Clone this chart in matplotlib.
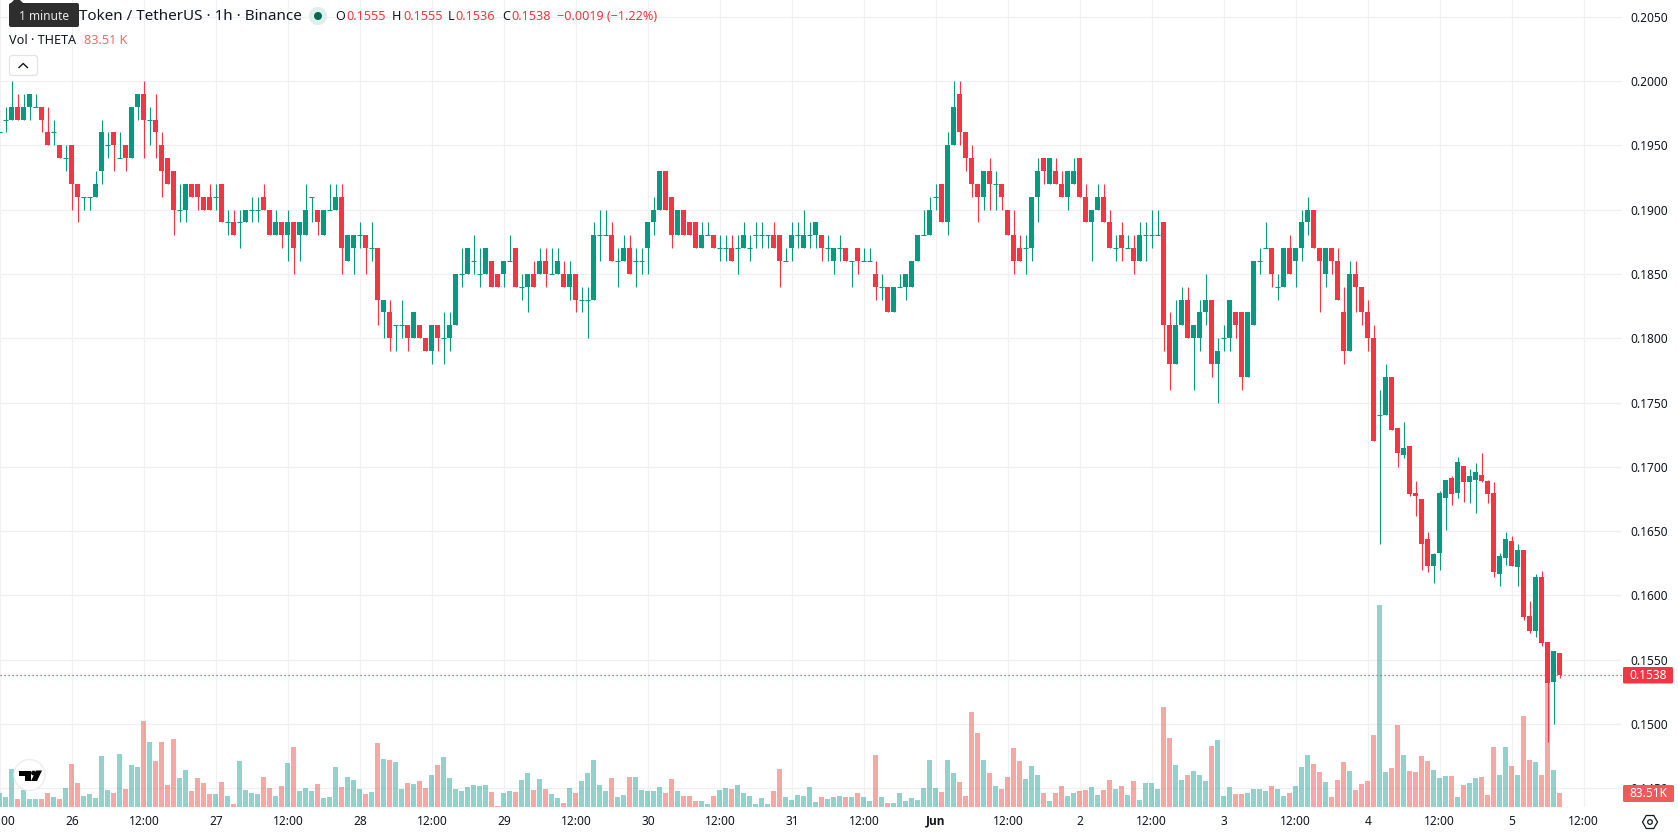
import matplotlib
matplotlib.use("Agg")
import matplotlib.pyplot as plt
from matplotlib.patches import Circle, FancyBboxPatch, Polygon, RegularPolygon
import numpy as np

plt.rcParams['font.family'] = ['Noto Sans', 'DejaVu Sans']

W, H = 1678, 835
PLOT_R, PLOT_B = 1622, 807
GREEN, RED = '#089981', '#F23645'
INK = '#131722'

# hourly candles starting 25 May 12:00, prices in thousandths
opens = [196,197,197,198,197,198,198,198,196,196,195,194,
         195,192,191,191,191,193,195,196,194,195,194,198,
         199,197,197,195,194,193,190,190,192,192,191,191,
         191,192,189,189,189,189,190,190,191,190,188,189,
         188,189,188,188,191,190,188,190,190,191,186,187,
         188,188,187,187,182,182,181,181,181,180,181,180,
         179,181,180,180,181,185,185,186,185,185,186,185,
         185,186,187,184,184,185,185,186,185,185,185,184,
         185,183,183,183,188,188,188,186,186,187,186,186,
         187,189,190,193,191,188,190,189,189,187,188,188,
         187,187,187,187,187,187,188,188,188,188,188,186,
         187,188,187,188,188,188,187,186,187,187,186,187,
         186,186,185,184,184,182,184,184,184,186,188,188,
         191,192,189,195,199,196,194,192,191,193,192,192,
         190,188,187,187,187,191,194,192,193,192,191,192,
         194,191,189,190,191,189,187,188,187,187,186,188,
         188,188,189,181,178,181,183,180,180,182,183,178,
         180,180,182,182,177,181,186,187,187,184,184,187,
         186,187,189,190,187,185,187,186,182,179,185,184,
         182,180,174,174,177,173,170.9,171.6,168,167.5,164.4,162.3,
         163.3,167.6,169.1,168,170.1,168.8,169,169.4,168.9,168,161.7,162.9,
         164.2,162.2,163.5,158.4,157.2,161.4,156.4,153.3,155.5]
closes = [196,197,198,197,198,199,198,197,195,196,194,194,
          192,191,191,191,192,196,195,195,194,194,198,199,
          197,197,196,193,192,190,190,192,191,191,190,190,
          191,189,189,188,189,190,190,190,190,188,189,188,
          189,187,189,190,191,189,190,190,191,187,188,188,
          188,187,187,183,183,180,181,181,180,182,180,179,
          181,180,180,181,185,185,187,186,185,187,184,184,
          186,186,184,184,185,184,186,185,185,186,184,185,
          183,183,183,188,188,188,186,186,187,185,186,186,
          189,190,193,190,188,190,188,188,187,188,188,187,
          187,187,186,187,188,187,188,188,188,187,186,186,
          188,188,188,188,189,187,187,187,187,186,186,186,
          186,186,184,184,182,184,184,185,186,188,188,190,
          191,189,195,198,196,194,192,191,193,192,192,191,
          188,186,186,187,191,193,193,194,192,191,193,193,
          191,189,190,191,189,187,187,187,187,186,188,188,
          188,188,181,178,181,183,180,181,182,183,178,179,
          180,183,181,177,182,186,186,187,185,184,187,185,
          187,189,190,187,186,187,186,183,179,185,184,182,
          180,172,174,177,172.9,171.1,171.5,167.9,167.7,164,162.3,163.2,
          168,169,167.9,170.4,168.8,169.3,169.6,168.9,167.9,161.8,163.1,164.4,
          162.3,163.5,158.3,157.2,161.4,156.3,153.2,155.7,153.8]
highs = [196,198,200,199,199,199,199,198,198,197,195,195,
         195,192,191,191,193,197,196,196,196,195,198,199,
         200,198,199,196,194,193,192,192,192,192,191,192,
         192,192,190,190,190,190,191,191,192,190,190,189,
         190,189,189,192,191,190,190,192,192,192,188,188,
         189,188,189,187,183,183,181,183,181,182,181,180,
         181,181,182,182,185,187,187,188,187,187,186,185,
         186,188,187,185,185,186,187,187,187,187,186,186,
         185,184,184,189,190,190,189,187,188,188,187,187,
         189,191,193,193,191,190,190,189,189,189,189,188,
         188,188,188,188,189,188,189,189,188,189,188,187,
         189,189,190,189,189,188,188,187,188,187,186,187,
         187,187,186,185,184,184,185,185,186,188,190,191,
         192,192,196,200,200,196,195,192,193,194,193,192,
         190,190,188,188,191,194,194,194,194,193,193,194,
         194,192,190,192,192,190,188,189,188,188,189,189,
         190,190,189,182,183,184,184,181,183,185,183,180,
         181,183,182,182,182,186,187,189,187,185,187,188,
         187,190,191,190,187,187,187,187,184,186,186,184,
         183,181,176,178,177,173,173.5,171.6,168.9,167.5,164.9,163.3,
         168.1,169,169.3,170.8,170.1,169.8,170.3,171.1,169,168.8,163.3,164.9,
         164.6,164,163.5,159.6,161.7,161.9,156.4,155.7,155.5]
lows = [196,196,197,197,197,197,198,196,195,195,194,193,
        190,189,190,190,191,192,194,193,194,193,194,197,
        194,195,194,191,192,188,189,189,191,190,190,190,
        190,189,188,188,187,189,189,189,190,188,188,187,
        186,185,186,188,189,188,188,190,190,185,186,185,
        187,185,186,181,180,179,179,180,179,180,180,179,
        178,179,178,179,181,184,185,185,184,185,184,184,
        184,186,184,183,182,184,185,184,185,185,184,183,
        182,182,180,183,186,188,186,184,186,185,184,185,
        185,188,190,190,187,188,188,188,187,187,188,187,
        186,186,186,185,187,186,187,187,187,187,184,186,
        186,187,187,187,187,186,186,185,186,186,184,185,
        186,186,183,183,182,182,184,183,184,186,188,188,
        190,189,188,195,195,193,191,189,190,190,190,190,
        188,185,186,185,186,189,192,192,192,191,190,192,
        191,189,186,190,189,187,186,186,187,185,186,186,
        187,188,179,176,178,181,180,176,179,181,177,175,
        179,179,180,176,177,181,185,187,184,183,184,185,
        184,186,188,187,182,184,185,183,178,179,182,181,
        179,172,164,174,172.9,170,170.7,167.7,166.2,162,161.8,161,
        162,165.1,167,167.6,167.3,167.2,166.4,168.8,167.2,161.4,160.7,162.4,
        162.3,160.7,158.1,157.1,156.8,156.1,148.6,150,153.6]
# volume per candle, in thousands
volumes = [84,60,228,48,102,48,48,48,84,60,48,114,
           258,144,66,78,54,306,102,84,318,108,252,240,
           516,390,276,390,132,408,174,222,96,174,144,78,
           78,150,66,18,276,102,84,78,180,114,66,126,
           264,360,96,114,96,138,54,60,240,120,180,162,
           108,78,90,384,288,282,270,108,144,138,156,114,
           192,252,300,174,108,96,120,132,126,132,90,6,
           84,96,90,162,204,102,168,108,78,54,24,114,
           84,156,204,282,132,96,174,60,72,180,180,102,
           96,96,120,84,168,96,66,66,36,36,18,66,
           102,114,108,132,84,66,18,54,18,96,228,60,
           42,72,66,120,30,60,48,60,66,60,60,84,
           60,36,312,60,24,24,84,36,54,42,114,282,
           114,90,282,204,150,66,570,444,282,204,126,108,
           180,354,276,168,246,192,84,36,84,126,66,84,
           96,102,120,72,102,162,108,126,72,156,42,144,
           144,108,600,414,252,162,192,216,192,156,366,402,
           66,120,78,78,84,108,108,96,126,108,66,84,
           126,240,312,258,210,150,60,162,270,216,102,138,
           156,432,1212,210,234,492,312,216,210,306,276,222,
           174,186,186,60,132,144,174,180,72,360,192,360,
           246,192,546,282,270,192,762,222,83.51]

# hours since 26 May 00:00, one per candle
hours = np.arange(-12, -12 + len(closes))

price_ticks = [0.2050, 0.2000, 0.1950, 0.1900, 0.1850, 0.1800, 0.1750, 0.1700,
               0.1650, 0.1600, 0.1550, 0.1500, 0.1450]
time_ticks = list(range(-12, 253, 12))
time_labels = ['12:00', '26', '12:00', '27', '12:00', '28', '12:00', '29', '12:00',
               '30', '12:00', '31', '12:00', 'Jun', '12:00', '2', '12:00', '3',
               '12:00', '4', '12:00', '5', '12:00']
last_price = 0.1538

o = np.array(opens) / 1000
c = np.array(closes) / 1000
hi = np.array(highs) / 1000
lo = np.array(lows) / 1000
vol = np.array(volumes, dtype=float)
up = c >= o

fig = plt.figure(figsize=(W / 100, H / 100), dpi=100, facecolor='white')
ax = fig.add_axes([0, 1 - PLOT_B / H, PLOT_R / W, PLOT_B / H])
ax.set_xlim(-71.7 / 6, (PLOT_R - 71.7) / 6)
ax.set_ylim(0.2 - (PLOT_B - 81) / 12860, 0.2 + 81 / 12860)
for s in ax.spines.values():
    s.set_visible(False)

ax.set_xticks(time_ticks)
ax.set_xticklabels(time_labels)
ax.set_yticks(price_ticks)
ax.set_yticklabels(['%.4f' % p for p in price_ticks])
ax.yaxis.tick_right()
ax.tick_params(axis='both', length=0, labelsize=8.6, labelcolor=INK)
ax.tick_params(axis='y', pad=6.2)
ax.tick_params(axis='x', pad=5.5)
for lab in ax.get_xticklabels():
    if lab.get_text() == 'Jun':
        lab.set_fontweight('bold')
        lab.set_fontfamily(['Open Sans', 'DejaVu Sans'])
ax.grid(True, color='#F0F0F2', lw=0.85, zorder=0)
ax.set_axisbelow(True)

# volume pane shares the bottom of the price pane, 6K to the pixel
vol_colors = ['#26A69A' if u else '#EF5350' for u in up]
ax.bar(hours, vol / (PLOT_B * 6), width=5 / 6, color=vol_colors, alpha=0.5,
       transform=ax.get_xaxis_transform(), zorder=1, linewidth=0)

ax.axhline(last_price, color=RED, lw=0.9, ls=(0, (1, 2.2)), zorder=2)

colors = np.array([GREEN if u else RED for u in up])
wicks = ax.vlines(hours, lo, hi, colors=colors, lw=0.8, zorder=3)
wicks.set_snap(True)
ax.bar(hours, np.abs(c - o), bottom=np.minimum(o, c), width=5 / 6, color=colors,
       linewidth=0, zorder=4)
# candles that close where they opened are a single dash
flat = c == o
dashes = ax.hlines(c[flat], hours[flat] - 2.5 / 6, hours[flat] + 2.5 / 6, colors=colors[flat],
                   lw=0.8, zorder=4)
dashes.set_snap(True)

# header, tags and logo are laid out in pixels on top of the chart
ov = fig.add_axes([0, 0, 1, 1], facecolor='none')
ov.set_xlim(0, W)
ov.set_ylim(H, 0)
ov.axis('off')

ov.text(79, 16, 'Token / TetherUS · 1h · Binance', fontsize=10.95, color=INK, va='center')
ov.add_patch(FancyBboxPatch((9, 3), 70, 24, boxstyle='round,pad=0,rounding_size=2',
                            fc='#2E2E2E', ec='none', zorder=5))
ov.add_patch(Polygon([(10, 4), (14, 0), (20, 0), (24, 4)], fc='#2E2E2E', ec='none', zorder=5))
ov.text(44, 16, '1 minute', fontsize=8.6, color='#E8E8E8', va='center', ha='center', zorder=6)

ov.add_patch(Circle((318, 16), 9, fc='#DCEFEB', ec='none'))
ov.add_patch(Circle((318, 16), 4, fc='#056656', ec='none'))
for x, t in [(335, 'O'), (392, 'H'), (448, 'L'), (502, 'C')]:
    ov.text(x, 16, t, fontsize=9.1, color=INK, va='center')
for x, t in [(346, '0.1555'), (403, '0.1555'), (455, '0.1536'), (511, '0.1538'),
             (557, '−0.0019 (−1.22%)')]:
    ov.text(x, 16, t, fontsize=9.1, color=RED, va='center')

ov.text(9, 40.5, 'Vol · THETA', fontsize=9.1, color=INK, va='center')
ov.text(84, 40.5, '83.51 K', fontsize=9.1, color='#F7676B', va='center')

ov.add_patch(FancyBboxPatch((9.5, 55.5), 28, 20, boxstyle='round,pad=0,rounding_size=3',
                            fc='white', ec='#E0E3EB', lw=0.9))
ov.plot([19, 23.2, 27.4], [67.5, 63.5, 67.5], color=INK, lw=1.0)

# last price and last volume tags on the scale
ov.add_patch(FancyBboxPatch((1623, 667), 50, 16.5, boxstyle='round,pad=0,rounding_size=1.5',
                            fc=RED, ec='none'))
ov.text(1648, 675.5, '%.4f' % last_price, fontsize=8.6, color='white', va='center', ha='center')
ov.add_patch(FancyBboxPatch((1623, 785), 51, 17, boxstyle='round,pad=0,rounding_size=1.5',
                            fc='#F15A5A', ec='none', zorder=3))
ov.text(1648.5, 793.5, '83.51K', fontsize=8.6, color='white', va='center', ha='center', zorder=4)

# settings cog
ov.add_patch(RegularPolygon((1650, 822), 6, radius=7.5, orientation=np.pi / 2,
                            fc='none', ec=INK, lw=0.9))
ov.add_patch(Circle((1650, 822), 2.3, fc='none', ec=INK, lw=0.9))

# logo badge
ov.add_patch(Circle((29.5, 775), 15.5, fc='white', ec='#EDEDED', lw=1))
ov.add_patch(Polygon([(19, 770.5), (31, 770.5), (31, 781), (25, 781), (25, 775.5), (19, 775.5)],
                     fc='black', ec='none'))
ov.add_patch(Circle((33.5, 773), 2.4, fc='black', ec='none'))
ov.add_patch(Polygon([(36, 770.5), (42, 770.5), (37, 781), (31, 781)], fc='black', ec='none'))

fig.savefig('out.png', dpi=100, facecolor='white')
